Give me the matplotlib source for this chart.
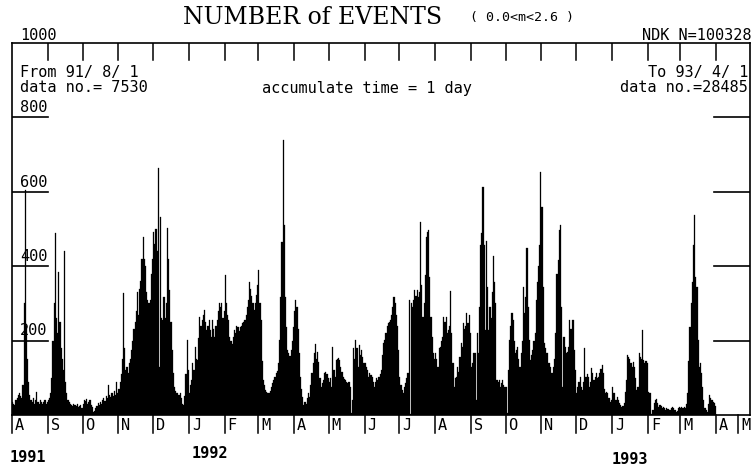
import numpy as np
import matplotlib
matplotlib.use("Agg")
import matplotlib.pyplot as plt

# daily event counts, 1991/8/1 .. 1993/3/31, one list per month
aug91 = [35, 30, 28, 40, 45, 55, 60, 50, 45, 80, 300, 605, 240, 150, 90, 55, 40, 35, 45, 30,
         40, 62, 35, 30, 40, 35, 30, 35, 40, 30, 35]
sep91 = [40, 45, 60, 100, 200, 300, 490, 260, 220, 385, 250, 180, 150, 120, 440, 90, 60, 40, 35, 30,
         28, 25, 30, 28, 25, 30, 22, 25, 28, 20]
oct91 = [30, 40, 38, 42, 30, 35, 40, 28, 22, 8, 12, 18, 25, 32, 28, 35, 30, 40, 46, 38,
         50, 45, 80, 55, 48, 60, 50, 65, 55, 89, 60]
nov91 = [70, 90, 110, 150, 328, 180, 120, 130, 113, 140, 150, 175, 200, 230, 250, 280, 330, 270, 340, 360,
         420, 479, 420, 400, 330, 310, 300, 310, 380, 420]
dec91 = [493, 460, 500, 440, 665, 130, 533, 260, 255, 318, 260, 300, 502, 420, 336, 250, 175, 113, 76, 65,
         58, 60, 55, 60, 45, 30, 27, 50, 110, 202, 120]
jan92 = [58, 80, 94, 140, 120, 183, 150, 148, 206, 263, 240, 255, 270, 282, 250, 228, 240, 255, 228, 210,
         255, 230, 210, 240, 255, 280, 301, 290, 301, 260, 280]
feb92 = [376, 300, 270, 255, 210, 200, 190, 210, 228, 220, 240, 237, 225, 237, 240, 246, 250, 255, 270, 290,
         310, 357, 340, 320, 300, 282, 300, 322, 350]
mar92 = [390, 300, 255, 146, 94, 80, 67, 63, 60, 58, 65, 76, 85, 95, 103, 113, 117, 140, 202, 318,
         464, 740, 512, 318, 237, 176, 166, 158, 176, 200, 237]
apr92 = [280, 309, 290, 230, 166, 103, 70, 49, 27, 35, 30, 45, 60, 49, 80, 113, 140, 166, 191, 150,
         170, 143, 100, 76, 85, 95, 113, 116, 110, 100]
may92 = [90, 100, 76, 184, 120, 103, 148, 150, 153, 148, 130, 115, 103, 98, 94, 90, 85, 88, 76, 5,
         40, 179, 150, 202, 180, 130, 188, 160, 175, 157, 140]
jun92 = [139, 130, 120, 103, 112, 108, 103, 90, 76, 90, 100, 95, 103, 110, 121, 160, 193, 202, 220, 239,
         246, 250, 255, 270, 291, 318, 300, 270, 239, 175]
jul92 = [103, 80, 67, 58, 76, 85, 100, 112, 309, 2, 301, 290, 310, 336, 320, 336, 318, 330, 519, 349,
         263, 300, 376, 479, 493, 497, 370, 264, 210, 166, 150]
aug92 = [166, 150, 130, 179, 184, 200, 210, 263, 250, 263, 220, 228, 240, 332, 220, 140, 76, 100, 103, 130,
         115, 157, 193, 184, 248, 230, 239, 274, 247, 269, 220]
sep92 = [130, 140, 166, 166, 40, 220, 166, 291, 457, 490, 612, 457, 228, 467, 343, 228, 291, 260, 330, 427,
         358, 300, 94, 90, 94, 76, 85, 94, 80, 76]
oct92 = [76, 5, 121, 202, 240, 273, 255, 200, 166, 175, 184, 150, 130, 166, 200, 343, 273, 318, 449, 291,
         202, 148, 160, 175, 200, 220, 309, 358, 400, 457, 653]
nov92 = [560, 343, 193, 180, 166, 166, 140, 130, 112, 112, 130, 150, 220, 379, 417, 497, 511, 291, 76, 210,
         184, 166, 170, 184, 255, 230, 255, 255, 175, 120]
dec92 = [58, 76, 90, 103, 76, 67, 90, 180, 103, 110, 103, 76, 90, 126, 112, 95, 103, 112, 100, 103,
         112, 125, 134, 112, 70, 58, 63, 58, 45, 36, 40]
jan93 = [76, 60, 58, 40, 49, 40, 31, 27, 22, 25, 31, 63, 94, 161, 157, 150, 139, 130, 143, 130,
         100, 67, 76, 166, 157, 150, 228, 148, 139, 145, 139]
feb93 = [63, 58, 58, 4, 13, 31, 40, 43, 31, 22, 27, 25, 18, 22, 20, 13, 18, 15, 13, 13,
         18, 22, 18, 13, 9, 12, 18, 22]
mar93 = [18, 22, 20, 22, 18, 30, 58, 145, 237, 300, 358, 457, 537, 372, 345, 202, 130, 140, 112, 76,
         40, 20, 13, 9, 30, 55, 45, 40, 36, 31, 25]

month_letters = ["A", "S", "O", "N", "D", "J", "F", "M", "A", "M", "J",
                 "J", "A", "S", "O", "N", "D", "J", "F", "M", "A", "M"]
year_labels = ["1991", "1992", "1993"]
y_ticks = [200, 400, 600, 800]

counts = np.array(aug91 + sep91 + oct91 + nov91 + dec91 + jan92 + feb92 + mar92 + apr92 + may92
                  + jun92 + jul92 + aug92 + sep92 + oct92 + nov92 + dec92 + jan93 + feb93 + mar93)
start = np.datetime64("1991-08-01")
days = np.arange(len(counts))

# month boundaries as day offsets
month_starts = np.arange("1991-08", "1993-06", dtype="datetime64[M]").astype("datetime64[D]")
month_pos = (month_starts - start).astype(int)

W, H = 754, 471
fig = plt.figure(figsize=(W / 100, H / 100), dpi=100)
fig.patch.set_facecolor("white")


def fx(px):
    return px / W


def fy(py):
    return 1 - py / H


x0, x1, ytop, ybot = 12, 750, 43, 415
ax = fig.add_axes([fx(x0), fy(ybot), fx(x1) - fx(x0), fy(ytop) - fy(ybot)])
px_per_day = 1.156
xmax = (x1 - x0) / px_per_day
ax.set_xlim(0, xmax)
ax.set_ylim(0, 1000)

ax.bar(days, counts, width=1.0, align="edge", color="black", edgecolor="black", linewidth=0.2)

for s in ax.spines.values():
    s.set_linewidth(1.2)
ax.set_xticks([])
ax.set_yticks([])

mono = "DejaVu Sans Mono"
fs = 11

# month ticks at top (inside) and bottom (outside)
xt = ax.get_xaxis_transform()
for m in month_pos[1:]:
    if m < xmax:
        ax.plot([m, m], [1, 1 - 17 / 372], transform=xt, color="black", lw=1.1)
for i, m in enumerate(month_pos):
    if m < xmax - 5:
        tx = m
    else:
        # last month is squeezed against the right frame
        tx = xmax - 12 / px_per_day
    ax.plot([tx, tx], [0, -18 / 372], transform=xt, color="black", lw=1.1, clip_on=False)
    ax.text(tx + 3 / px_per_day, -10 / 372, month_letters[i], transform=xt, ha="left", va="center",
            fontsize=fs, family=mono, clip_on=False)

# y ticks: left with labels, right without
yt = ax.get_yaxis_transform()
for v in y_ticks:
    ax.plot([0, 36 / 738], [v, v], transform=yt, color="black", lw=1.2)
    ax.plot([1 - 36 / 738, 1], [v, v], transform=yt, color="black", lw=1.2)
    ax.text(8 / 738, v + 6, str(v), transform=yt, ha="left", va="bottom", fontsize=fs, family=mono)

fig.text(fx(20), fy(35), "1000", ha="left", va="center", fontsize=fs, family=mono)
fig.text(fx(751), fy(35), "NDK N=100328", ha="right", va="center", fontsize=fs, family=mono)
fig.text(fx(20), fy(72), "From 91/ 8/ 1", ha="left", va="center", fontsize=fs, family=mono)
fig.text(fx(20), fy(88), "data no.= 7530", ha="left", va="center", fontsize=fs, family=mono)
fig.text(fx(262), fy(88), "accumulate time = 1 day", ha="left", va="center", fontsize=fs, family=mono)
fig.text(fx(748), fy(72), "To 93/ 4/ 1", ha="right", va="center", fontsize=fs, family=mono)
fig.text(fx(748), fy(88), "data no.=28485", ha="right", va="center", fontsize=fs, family=mono)

# title
fig.text(fx(183), fy(17), "NUMBER of EVENTS", ha="left", va="center", fontsize=17,
         family="DejaVu Serif")
fig.text(fx(470), fy(18), "( 0.0<m<2.6 )", ha="left", va="center", fontsize=9.5, family=mono)

# years
fig.text(fx(10), fy(458), year_labels[0], ha="left", va="center", fontsize=fs, family=mono, weight="bold")
fig.text(fx(192), fy(454), year_labels[1], ha="left", va="center", fontsize=fs, family=mono, weight="bold")
fig.text(fx(612), fy(460), year_labels[2], ha="left", va="center", fontsize=fs, family=mono, weight="bold")

fig.savefig("out.png", dpi=100)
